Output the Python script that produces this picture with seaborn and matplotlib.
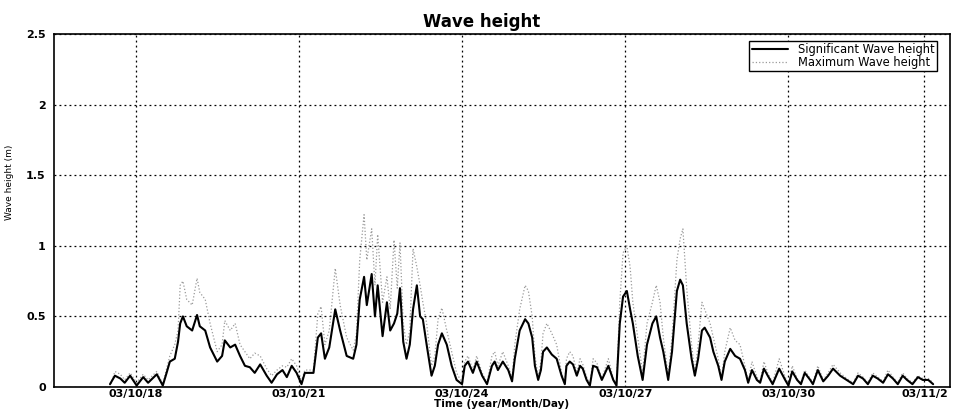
import matplotlib
matplotlib.use('Agg')
import matplotlib.pyplot as plt
import pandas as pd
import seaborn as sns

# time in days counted from the left edge of the axis (03/10/16.5)
time_day = [
    1.03, 1.12, 1.22, 1.30, 1.40, 1.52, 1.64, 1.73, 1.89, 2.00,
    2.07, 2.13, 2.22, 2.28, 2.32, 2.37, 2.44, 2.54, 2.63, 2.68,
    2.78, 2.87, 3.00, 3.09, 3.14, 3.24, 3.33, 3.42, 3.51, 3.60,
    3.69, 3.79, 3.91, 4.00, 4.10, 4.20, 4.28, 4.37, 4.46, 4.55,
    4.61, 4.77, 4.85, 4.91, 4.98, 5.06, 5.17, 5.26, 5.38, 5.50,
    5.56, 5.62, 5.70, 5.75, 5.84, 5.90, 5.95, 6.04, 6.12, 6.18,
    6.25, 6.31, 6.36, 6.42, 6.48, 6.54, 6.60, 6.67, 6.73, 6.78,
    6.85, 6.94, 7.00, 7.06, 7.13, 7.22, 7.31, 7.40, 7.50, 7.55,
    7.61, 7.70, 7.77, 7.87, 7.96, 8.05, 8.10, 8.16, 8.25, 8.35,
    8.42, 8.47, 8.56, 8.66, 8.72, 8.79, 8.84, 8.90, 8.95, 8.99,
    9.06, 9.15, 9.24, 9.33, 9.39, 9.42, 9.48, 9.54, 9.61, 9.67,
    9.72, 9.79, 9.85, 9.91, 9.98, 10.07, 10.19, 10.28, 10.34, 10.40,
    10.46, 10.53, 10.59, 10.64, 10.73, 10.82, 10.90, 11.00, 11.07, 11.14,
    11.20, 11.29, 11.36, 11.45, 11.51, 11.56, 11.63, 11.72, 11.78, 11.84,
    11.91, 11.96, 12.06, 12.12, 12.21, 12.27, 12.33, 12.43, 12.52, 12.61,
    12.70, 12.76, 12.83, 12.92, 12.98, 13.05, 13.12, 13.21, 13.33, 13.44,
    13.50, 13.57, 13.66, 13.73, 13.80, 13.90, 13.95, 14.04, 14.14, 14.23,
    14.32, 14.45, 14.57, 14.69, 14.78, 14.87, 14.96, 15.05, 15.14, 15.24,
    15.33, 15.42, 15.51, 15.60, 15.68, 15.78, 15.88, 15.97, 16.07, 16.16,
]

sig_wave = [
    0.02, 0.08, 0.06, 0.03, 0.08, 0.01, 0.07, 0.03, 0.09, 0.01,
    0.10, 0.18, 0.20, 0.32, 0.45, 0.50, 0.43, 0.40, 0.51, 0.43,
    0.40, 0.28, 0.18, 0.22, 0.33, 0.28, 0.30, 0.22, 0.15, 0.14,
    0.10, 0.16, 0.08, 0.03, 0.09, 0.12, 0.07, 0.15, 0.10, 0.02,
    0.10, 0.10, 0.35, 0.38, 0.20, 0.28, 0.55, 0.40, 0.22, 0.20,
    0.30, 0.62, 0.78, 0.58, 0.80, 0.50, 0.72, 0.36, 0.60, 0.40,
    0.45, 0.52, 0.70, 0.32, 0.20, 0.30, 0.55, 0.72, 0.50, 0.48,
    0.30, 0.08, 0.15, 0.30, 0.38, 0.30, 0.15, 0.05, 0.02, 0.15,
    0.18, 0.10, 0.18, 0.08, 0.02, 0.15, 0.18, 0.12, 0.18, 0.12,
    0.04, 0.20, 0.40, 0.48, 0.45, 0.35, 0.15, 0.05, 0.12, 0.25,
    0.28, 0.23, 0.20, 0.08, 0.02, 0.15, 0.18, 0.16, 0.08, 0.15,
    0.13, 0.05, 0.01, 0.15, 0.14, 0.05, 0.15, 0.05, 0.01, 0.45,
    0.64, 0.68, 0.55, 0.45, 0.22, 0.05, 0.30, 0.45, 0.50, 0.35,
    0.25, 0.05, 0.25, 0.68, 0.76, 0.72, 0.45, 0.20, 0.08, 0.20,
    0.40, 0.42, 0.35, 0.25, 0.15, 0.05, 0.18, 0.27, 0.22, 0.20,
    0.12, 0.03, 0.12, 0.05, 0.03, 0.13, 0.08, 0.02, 0.13, 0.05,
    0.01, 0.11, 0.05, 0.02, 0.10, 0.05, 0.02, 0.12, 0.04, 0.08,
    0.13, 0.08, 0.05, 0.02, 0.08, 0.06, 0.02, 0.08, 0.06, 0.03,
    0.09, 0.06, 0.02, 0.08, 0.05, 0.02, 0.07, 0.05, 0.05, 0.02,
]

max_wave = [
    0.00, 0.11, 0.09, 0.05, 0.10, 0.03, 0.09, 0.05, 0.11, 0.02,
    0.13, 0.22, 0.30, 0.40, 0.72, 0.75, 0.62, 0.58, 0.77, 0.67,
    0.62, 0.45, 0.25, 0.30, 0.47, 0.40, 0.45, 0.30, 0.25, 0.20,
    0.24, 0.22, 0.13, 0.08, 0.12, 0.15, 0.14, 0.20, 0.15, 0.04,
    0.12, 0.12, 0.52, 0.57, 0.30, 0.40, 0.84, 0.58, 0.35, 0.26,
    0.38, 0.90, 1.22, 0.90, 1.12, 0.72, 1.08, 0.60, 0.78, 0.55,
    1.04, 0.70, 1.02, 0.45, 0.30, 0.40, 0.98, 0.85, 0.72, 0.60,
    0.45, 0.15, 0.22, 0.48, 0.56, 0.40, 0.25, 0.10, 0.03, 0.18,
    0.22, 0.12, 0.22, 0.10, 0.03, 0.22, 0.25, 0.15, 0.25, 0.15,
    0.06, 0.30, 0.55, 0.72, 0.68, 0.50, 0.22, 0.07, 0.18, 0.38,
    0.45, 0.38, 0.30, 0.10, 0.03, 0.20, 0.25, 0.22, 0.10, 0.20,
    0.16, 0.07, 0.02, 0.20, 0.17, 0.06, 0.20, 0.06, 0.02, 0.60,
    0.95, 1.00, 0.85, 0.60, 0.35, 0.10, 0.45, 0.60, 0.72, 0.60,
    0.35, 0.08, 0.35, 0.90, 1.05, 1.12, 0.70, 0.30, 0.10, 0.30,
    0.60, 0.55, 0.45, 0.35, 0.20, 0.06, 0.25, 0.42, 0.33, 0.30,
    0.15, 0.04, 0.18, 0.07, 0.04, 0.18, 0.10, 0.03, 0.20, 0.07,
    0.02, 0.15, 0.06, 0.03, 0.12, 0.06, 0.03, 0.15, 0.05, 0.10,
    0.16, 0.10, 0.06, 0.03, 0.10, 0.07, 0.03, 0.10, 0.07, 0.04,
    0.12, 0.07, 0.03, 0.10, 0.06, 0.03, 0.08, 0.06, 0.06, 0.03,
]

tick_days = [1.5, 4.5, 7.5, 10.5, 13.5, 16.0]
tick_labels = ['03/10/18', '03/10/21', '03/10/24', '03/10/27', '03/10/30', '03/11/2']
y_ticks = [0, 0.5, 1, 1.5, 2, 2.5]
y_labels = ['0', '0.5', '1', '1.5', '2', '2.5']

sns.set_style('white')
plt.rcParams['font.family'] = ['DejaVu Sans']
plt.rcParams['text.color'] = 'black'
plt.rcParams['axes.labelcolor'] = 'black'

df = pd.DataFrame({'day': time_day, 'sig': sig_wave, 'max': max_wave})

fig = plt.figure(figsize=(9.57, 4.12), dpi=100)
ax = fig.add_axes([0.0564, 0.0607, 0.9363, 0.8568])

sns.lineplot(data=df, x='day', y='max', ax=ax, color='#9a9a9a', linewidth=0.9,
             linestyle=':', estimator=None, sort=False, label='Maximum Wave height')
sns.lineplot(data=df, x='day', y='sig', ax=ax, color='black', linewidth=1.5,
             estimator=None, sort=False, label='Significant Wave height')

ax.set_xlim(0, 16.47)
ax.set_ylim(0, 2.5)
ax.set_xticks(tick_days)
ax.set_xticklabels(tick_labels, fontsize=8, fontweight='bold')
ax.set_yticks(y_ticks)
ax.set_yticklabels(y_labels, fontsize=8, fontweight='bold')
ax.tick_params(axis='x', direction='in', length=3, width=0.8, pad=1.5,
               colors='black', labelcolor='black')
ax.tick_params(axis='y', direction='in', length=3, width=0.8, pad=6,
               colors='black', labelcolor='black')

ax.grid(True, color='black', linestyle=(0, (1.5, 2.5)), linewidth=0.9)
for s in ax.spines.values():
    s.set_color('black')
    s.set_linewidth(1.2)

ax.set_title('Wave height', fontsize=12, fontweight='bold', pad=5,
             color='black', x=0.477)
ax.set_xlabel('Time (year/Month/Day)', fontsize=7.5, fontweight='bold', labelpad=0)
ax.set_ylabel('Wave height (m)', fontsize=6.5)
ax.yaxis.set_label_coords(-0.045, 0.58)

handles, labels = ax.get_legend_handles_labels()
leg = ax.legend(handles[::-1], labels[::-1], loc='upper right', fontsize=8.3,
                frameon=True, fancybox=False, edgecolor='black', framealpha=1,
                borderpad=0.2, labelspacing=0.0, handlelength=3.2,
                handletextpad=0.8, bbox_to_anchor=(0.9915, 0.997))
leg.get_frame().set_linewidth(1.0)
for t in leg.get_texts():
    t.set_color('black')

fig.savefig('out.png', dpi=100)
